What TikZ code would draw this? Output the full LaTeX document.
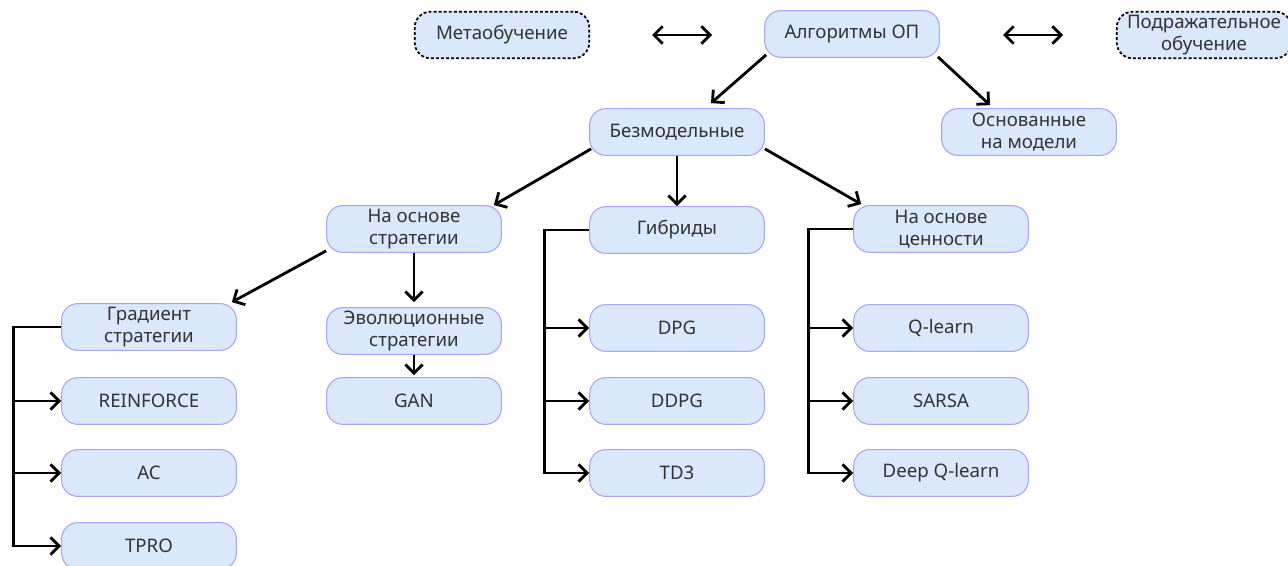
\documentclass[tikz,border=0pt]{standalone}
\usepackage{fontspec}
\setmainfont{Noto Sans}
\usetikzlibrary{arrows.meta,calc}
\definecolor{boxfill}{HTML}{DAE8FC}
\definecolor{boxline}{HTML}{A9A3F4}
\definecolor{txt}{HTML}{333333}
\begin{document}
\begin{tikzpicture}[x=0.75pt,y=-0.75pt,
  every node/.style={font=\fontsize{14}{16.5}\selectfont, text=txt, align=center},
  algbox/.style={draw=boxline, line width=0.8pt, fill=boxfill, rounded corners=12pt,
    minimum width=131pt, minimum height=35pt, inner sep=0pt},
  relbox/.style={algbox, draw=black, line width=1.3pt, dash pattern=on 2.2pt off 1.6pt},
  link/.style={draw=black, line width=2.1pt, -{Straight Barb[length=6.5pt,width=13pt]}},
  both/.style={draw=black, line width=2.1pt, {Straight Barb[length=6.5pt,width=13pt]}-{Straight Barb[length=6.5pt,width=13pt]}}
]
\useasboundingbox (0,0) rectangle (1288,566);
\clip (0,0) rectangle (1288,566);

% top row: root and related fields
\node[relbox] (meta) at (502,35) {Метаобучение};
\node[algbox] (alg)  at (852,34) {Алгоритмы ОП};
\node[relbox] (imit) at (1204,35) {Подражательное\\обучение};
\coordinate (dl1) at (652,35);
\coordinate (dr1) at (712,35);
\coordinate (dl2) at (1003,35);
\coordinate (dr2) at (1063,35);
\draw[both] (dl1) -- (dr1);
\draw[both] (dl2) -- (dr2);

% second level
\node[algbox] (free)  at (677,132)  {Безмодельные};
\node[algbox] (model) at (1029,132) {Основанные\\на модели};

% third level
\node[algbox] (pol)  at (414,229) {На основе\\стратегии};
\node[algbox] (hyb)  at (677,230) {Гибриды};
\node[algbox] (val)  at (941,229) {На основе\\ценности};

% policy-based branch
\node[algbox] (grad) at (149,327) {Градиент\\стратегии};
\node[algbox] (rein) at (149,401) {REINFORCE};
\node[algbox] (ac)   at (149,473) {AC};
\node[algbox] (tpro) at (149,546) {TPRO};
\node[algbox] (evo)  at (414,331) {Эволюционные\\стратегии};
\node[algbox] (gan)  at (414,401) {GAN};

% hybrid branch
\node[algbox] (dpg)  at (677,328) {DPG};
\node[algbox] (ddpg) at (677,401) {DDPG};
\node[algbox] (td3)  at (677,473) {TD3};

% value-based branch
\node[algbox] (ql)    at (941,328) {Q-learn};
\node[algbox] (sarsa) at (941,401) {SARSA};
\node[algbox] (dql)   at (941,473) {Deep Q-learn};

% tree links
\draw[link] ($(alg.south west)+(2,-3)$) -- ($(free.north)+(34,-5)$);
\draw[link] ($(alg.south east)+(-2,-1)$) -- ($(model.north)+(-39,-3)$);
\draw[link] ($(free.south west)+(2,-7)$) -- ($(pol.north east)+(-8,0)$);
\draw[link] (free.south) -- (hyb.north);
\draw[link] ($(free.south east)+(0,-7)$) -- ($(val.north west)+(8,-1)$);
\draw[link] ($(pol.south west)+(0,-2)$) -- ($(grad.north east)+(-5,-1)$);
\draw[link] (pol.south) -- ($(evo.north)+(0,-5)$);
\draw[link] (evo.south) -- ($(gan.north)+(0,-2)$);

% rakes to the leaf algorithms
\coordinate (busg) at ($(grad.west)+(-48,0)$);
\draw[link] (grad.west) -- (busg) |- (tpro.west);
\draw[link] (busg |- rein.west) -- (rein.west);
\draw[link] (busg |- ac.west) -- (ac.west);

\coordinate (bush) at ($(hyb.west)+(-45,0)$);
\draw[link] (hyb.west) -- (bush) |- (td3.west);
\draw[link] (bush |- dpg.west) -- (dpg.west);
\draw[link] (bush |- ddpg.west) -- (ddpg.west);

\coordinate (busv) at ($(val.west)+(-45,0)$);
\draw[link] (val.west) -- (busv) |- (dql.west);
\draw[link] (busv |- ql.west) -- (ql.west);
\draw[link] (busv |- sarsa.west) -- (sarsa.west);
\end{tikzpicture}
\end{document}
